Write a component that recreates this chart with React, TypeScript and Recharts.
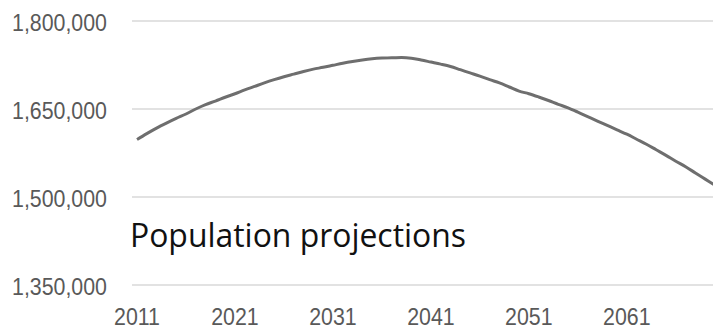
import React from 'react';
import { LineChart, Line, XAxis, YAxis, CartesianGrid } from 'recharts';

const YEARS = [
  2011, 2012, 2013, 2014, 2015, 2016, 2017, 2018, 2019, 2020,
  2021, 2022, 2023, 2024, 2025, 2026, 2027, 2028, 2029, 2030,
  2031, 2032, 2033, 2034, 2035, 2036, 2037, 2038, 2039, 2040,
  2041, 2042, 2043, 2044, 2045, 2046, 2047, 2048, 2049, 2050,
  2051, 2052, 2053, 2054, 2055, 2056, 2057, 2058, 2059, 2060,
  2061, 2062, 2063, 2064, 2065, 2066, 2067, 2068, 2069, 2070,
];

const POPULATION = [
  1598000, 1608000, 1617500, 1626000, 1634000, 1641500, 1650000, 1657500, 1663500, 1670000,
  1676000, 1682500, 1688500, 1694500, 1700000, 1705000, 1709500, 1714000, 1718000, 1721000,
  1724500, 1728000, 1731000, 1733500, 1735500, 1736800, 1737500, 1737600, 1736500, 1733500,
  1730000, 1726500, 1722500, 1717000, 1711500, 1706000, 1700000, 1694500, 1687500, 1680500,
  1676000, 1670500, 1664500, 1658000, 1652000, 1644500, 1637000, 1629500, 1622000, 1614500,
  1607000, 1598500, 1590000, 1580500, 1571000, 1561000, 1551500, 1541000, 1530500, 1520000,
];

const Y_TICKS = [1350000, 1500000, 1650000, 1800000];

const TITLE = 'Population projections';

const data = YEARS.map((year, i) => ({ year, population: POPULATION[i] }));

const AXIS_TEXT = '#595959';

const fmtNum = (v: number) => v.toLocaleString('en-US');

// axis labels are a slightly condensed sans, so squeeze them horizontally
const YTick = (props: any) => {
  const { x, y, payload } = props;
  return (
    <text
      x={0}
      y={0}
      transform={`translate(${x},${y + 9.5}) scale(0.89,1)`}
      textAnchor="end"
      fill={AXIS_TEXT}
      fontSize={24}
      fontFamily="'Liberation Sans', Arial, sans-serif"
    >
      {fmtNum(payload.value)}
    </text>
  );
};

const XTick = (props: any) => {
  const { x, y, payload } = props;
  return (
    <text
      x={0}
      y={0}
      transform={`translate(${x},${y + 40}) scale(0.89,1)`}
      textAnchor="middle"
      fill={AXIS_TEXT}
      fontSize={24}
      fontFamily="'Liberation Sans', Arial, sans-serif"
    >
      {payload.value}
    </text>
  );
};

export default function App() {
  return (
    <div
      style={{
        position: 'fixed',
        left: 0,
        top: 0,
        width: 713,
        height: 329,
        overflow: 'hidden',
        background: '#fff',
      }}
    >
      <LineChart
        width={730}
        height={329}
        data={data}
        margin={{ top: 21, right: 10, left: 0, bottom: 0 }}
      >
        <CartesianGrid vertical={false} stroke="#d9d9d9" strokeWidth={1.5} />
        <XAxis
          dataKey="year"
          height={44}
          axisLine={false}
          tickLine={false}
          tickSize={0}
          tickMargin={0}
          interval={9}
          padding={{ left: 5, right: 5 }}
          tick={<XTick />}
        />
        <YAxis
          width={132}
          domain={[1350000, 1800000]}
          ticks={Y_TICKS}
          axisLine={false}
          tickLine={false}
          tickSize={0}
          tickMargin={25}
          tick={<YTick />}
        />
        <Line
          type="monotone"
          dataKey="population"
          stroke="#6e6e6e"
          strokeWidth={3}
          dot={false}
          isAnimationActive={false}
        />
      </LineChart>
      <svg
        width={713}
        height={329}
        style={{ position: 'absolute', left: 0, top: 0, pointerEvents: 'none' }}
      >
        <text
          x={130}
          y={247}
          fontSize={32}
          fill="#111"
          fontFamily="'Open Sans', sans-serif"
          textLength={336}
          lengthAdjust="spacingAndGlyphs"
        >
          {TITLE}
        </text>
      </svg>
    </div>
  );
}
